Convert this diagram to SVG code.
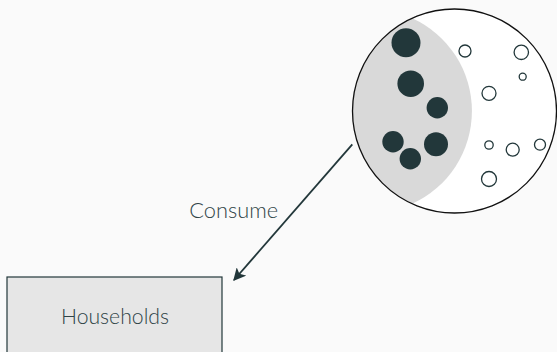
<svg xmlns="http://www.w3.org/2000/svg" width="557" height="352" viewBox="0 0 557 352">
  <defs>
    <style>
      .label { font-family: Lato, "Open Sans", sans-serif; font-weight: 300; fill: #2f4447; }
      .dot { fill: #22373a; }
      .ring { fill: #ffffff; stroke: #22373a; stroke-width: 1.3; }
      .edge { stroke: #22373a; stroke-width: 1.8; fill: none; }
    </style>
    <marker id="arrow" viewBox="0 0 10 10" refX="9" refY="5" markerWidth="7" markerHeight="7" orient="auto" markerUnits="strokeWidth">
      <path d="M0,0 L10,5 L0,10 L2.5,5 Z" fill="#22373a"/>
    </marker>
  </defs>
  <rect width="557" height="352" fill="#fafafa"/>

  <!-- Market: a disc with the consumed share shaded -->
  <g id="market">
    <circle cx="454.5" cy="111" r="102" fill="#ffffff"/>
    <path d="M412.25,18.2 A102,102 0 0,0 412.25,203.8 A102,102 0 0,0 412.25,18.2 Z" fill="#d9d9d9"/>
    <circle cx="454.5" cy="111" r="102" fill="none" stroke="#111" stroke-width="1.3"/>
    <circle class="dot" cx="406" cy="42.7" r="14.5"/>
    <circle class="dot" cx="410.7" cy="83.7" r="13.3"/>
    <circle class="dot" cx="437.3" cy="107.7" r="10.7"/>
    <circle class="dot" cx="393" cy="141.7" r="10.7"/>
    <circle class="dot" cx="436" cy="144.3" r="12"/>
    <circle class="dot" cx="410.3" cy="158.7" r="10.7"/>
    <circle class="ring" cx="465" cy="51" r="6"/>
    <circle class="ring" cx="521.3" cy="52.3" r="7.2"/>
    <circle class="ring" cx="522.7" cy="76.7" r="3.5"/>
    <circle class="ring" cx="489" cy="93.3" r="7"/>
    <circle class="ring" cx="489" cy="145" r="4.2"/>
    <circle class="ring" cx="512.7" cy="149.7" r="6.5"/>
    <circle class="ring" cx="540" cy="144.7" r="5.5"/>
    <circle class="ring" cx="489" cy="179" r="7.5"/>
  </g>

  <g id="households">
    <rect x="7" y="277" width="215" height="90" fill="#e6e6e6" stroke="#22373a" stroke-width="1.2"/>
    <text class="label" x="115" y="323.5" font-size="21.2" text-anchor="middle">Households</text>
  </g>

  <g id="connectors">
    <line class="edge" x1="352.3" y1="144.3" x2="234" y2="280" marker-end="url(#arrow)"/>
    <text class="label" x="233.7" y="217.8" font-size="21.8" text-anchor="middle">Consume</text>
  </g>
</svg>
